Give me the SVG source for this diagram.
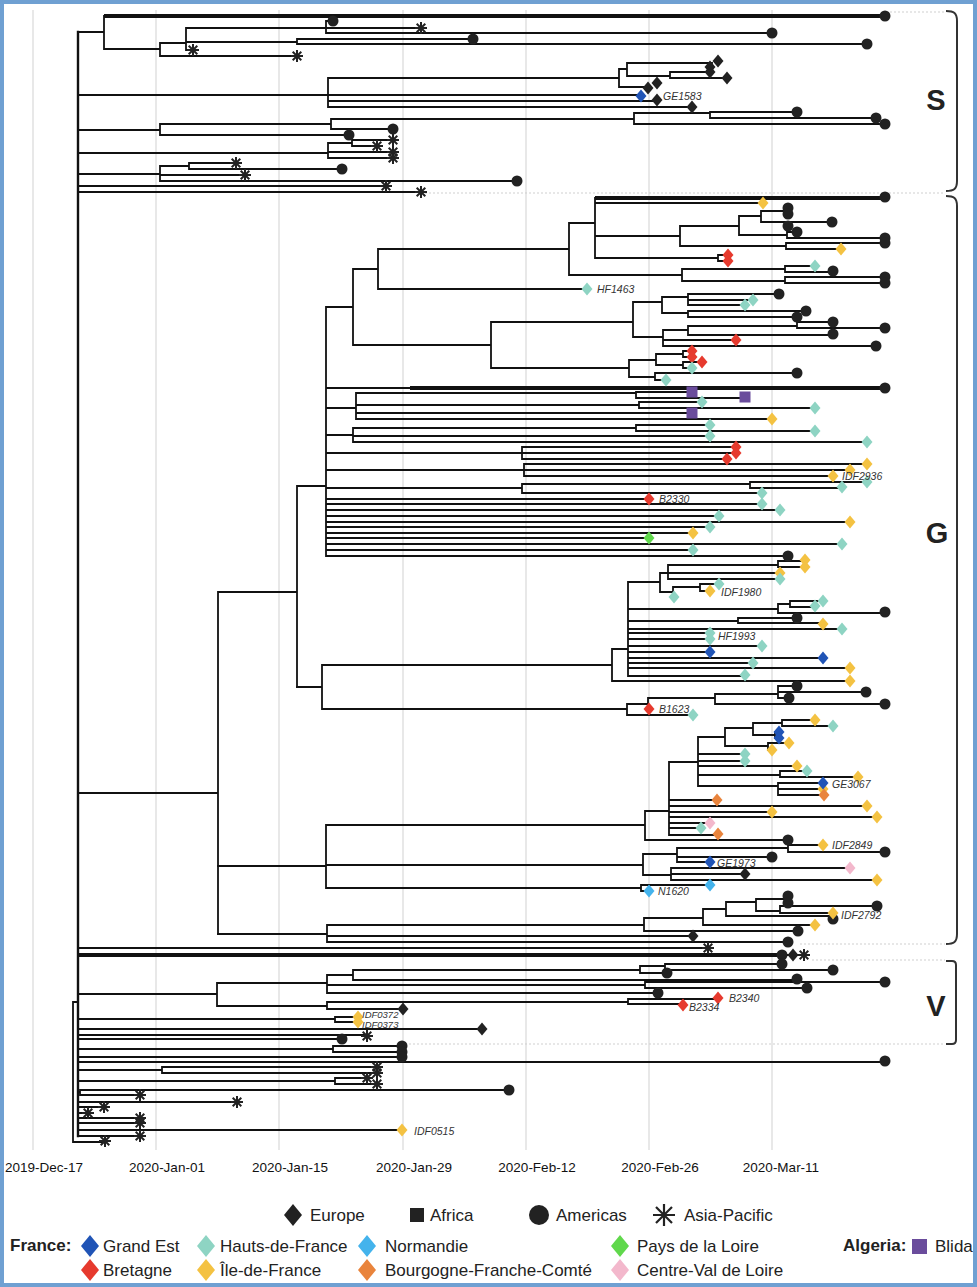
<svg xmlns="http://www.w3.org/2000/svg" xmlns:xlink="http://www.w3.org/1999/xlink" width="977" height="1287" viewBox="0 0 977 1287">
<style>
.t{fill:none;stroke:#111;stroke-width:1.8;stroke-linecap:square}
.th{fill:none;stroke:#111;stroke-width:4}
.grid{stroke:#d9d9d9;stroke-width:1.2}
.dot{stroke:#cfcfcf;stroke-width:1;stroke-dasharray:2,2;fill:none}
.br{fill:none;stroke:#333;stroke-width:2}
.k{fill:#222}.ge{fill:#2054b6}.hf{fill:#8ed4c3}.no{fill:#44b3ec}.pl{fill:#60d84c}.bt{fill:#e63a2e}.if{fill:#f4c242}.bf{fill:#e9843c}.cv{fill:#f3b8cc}.bl{fill:#6a4c9c}
.lab{font-family:"Liberation Sans",Arial,sans-serif;font-style:italic;font-size:10.5px;fill:#333}
.labs{font-family:"Liberation Sans",Arial,sans-serif;font-style:italic;font-size:9.5px;fill:#333}
.ax{font-family:"Liberation Sans",Arial,sans-serif;font-size:13.5px;fill:#111;text-anchor:middle}
.lg{font-family:"Liberation Sans",Arial,sans-serif;font-size:17px;fill:#222}
.lgb{font-family:"Liberation Sans",Arial,sans-serif;font-size:17px;font-weight:bold;fill:#222}
.cl{font-family:"Liberation Sans",Arial,sans-serif;font-size:29px;font-weight:bold;fill:#222;text-anchor:middle}
</style>
<defs>
<path id="dm" d="M0,-6.5L5.5,0L0,6.5L-5.5,0Z"/>
<circle id="ct" r="5.5"/>
<rect id="sq" x="-5.5" y="-5.5" width="11" height="11"/>
<path id="as" d="M-6,0H6M0,-6V6M-4.3,-4.3L4.3,4.3M-4.3,4.3L4.3,-4.3" stroke="#222" stroke-width="2" fill="none"/>
<path id="dmL" d="M0,-11L9,0L0,11L-9,0Z"/>
</defs>
<rect x="0" y="0" width="977" height="1287" fill="#fff"/>
<g id="grid">
<path class="grid" d="M33,10V1150M156,10V1150M279,10V1150M403,10V1150M526,10V1150M649,10V1150M772,10V1150"/>
<path class="dot" d="M890,12H945M425,193H945M800,944H945M812,960H945M405,1044H945"/>
</g>
<g id="axis">
<text class="ax" x="44" y="1172">2019-Dec-17</text>
<text class="ax" x="167" y="1172">2020-Jan-01</text>
<text class="ax" x="290" y="1172">2020-Jan-15</text>
<text class="ax" x="414" y="1172">2020-Jan-29</text>
<text class="ax" x="537" y="1172">2020-Feb-12</text>
<text class="ax" x="660" y="1172">2020-Feb-26</text>
<text class="ax" x="781" y="1172">2020-Mar-11</text>
</g>
<g id="connectors">
<path class="t" style="stroke-width:2.4" d="M78,32V1136"/>
<path class="t" d="M73,1002V1142M73,1002H78M73,1142H105"/>
<path class="th" d="M104,16H885M595,198H885M410,388H885M78,955H782"/>
<path class="t" d="M78,32H104M104,16V49M104,49H160M160,43V56M160,56H297M160,43H186M186,28V50M186,50H193M186,42H297M297,39V44M297,39H473M297,44H867M186,28H326M326,21V33M326,21H333M326,28H421M326,33H772
M78,95H328M328,78V107M328,78H619M619,69V87M619,69H627M627,63V76M627,63H712M627,76H670M670,72V78M670,72H710M670,78H727M619,87H648M328,95H641M328,101H657M328,107H692
M78,130H160M160,124V135M160,135H349M160,124H331M331,119V129M331,129H393M331,119H634M634,113V124M634,113H710M710,112V118M710,112H797M710,118H876M634,124H885
M78,153H328M328,143V158M328,143H352M352,140V146M352,140H393M352,146H377M328,152H393M328,158H393
M78,174H160M160,166V181M160,166H189M189,163V169M189,163H236M189,169H342M160,175H245M160,181H517M78,186H386M78,192H421"/>
<path class="t" d="M78,793H218M218,592V934M218,592H297M297,486V687M297,486H326M326,307V556
M326,307H353M353,269V345M353,269H378M378,249V289M378,289H587M378,249H569M569,223V275M569,223H595M595,198V258M595,203H763M595,236H680M680,226V246M680,226H739M739,216V235M739,216H761M761,211V222M761,211H785M785,208V214M785,208H788M785,214H788M761,222H832M739,235H787M787,226V238M787,226H788M787,232H797M787,238H885M680,246H786M786,243V249M786,243H885M786,249H841M595,258H718M718,255V261M718,255H728M718,261H728
M569,275H682M682,269V281M682,269H785M785,266V272M785,266H815M785,272H833M682,281H785M785,277V283M785,277H885M785,283H885
M353,345H491M491,322V368M491,322H633M633,302V337M633,302H662M662,297V313M662,297H688M688,294V305M688,294H779M688,300H753M688,305H745M662,313H688M688,311V317M688,311H806M688,317H797
M633,337H663M663,330V346M663,330H688M688,326V335M688,326H797M797,322V328M797,322H833M797,328H885M688,335H833M663,340H736M663,346H876
M491,368H629M629,360V377M629,360H656M656,354V365M656,354H683M683,351V357M683,351H692M683,357H692M656,365H683M683,362V368M683,362H702M683,368H692M629,377H655M655,373V380M655,373H797M655,380H666
M326,388H410M326,408H356M356,393V419M356,393H636M636,392V398M636,392H692M636,398H745M356,405H639M639,402V408M639,402H702M639,408H815M356,413H692M356,419H772
M326,435H353M353,428V442M353,428H636M636,425V431M636,425H710M636,431H815M353,436H710M353,442H867
M326,453H522M522,447V459M522,447H736M522,453H736M522,459H727
M326,470H524M524,464V476M524,464H867M524,470H850M524,476H833
M326,488H522M522,484V493M522,484H750M750,482V488M750,482H867M750,488H842M522,493H762
M326,499H649M326,504H762M326,510H780M326,516H719M326,522H850M326,527H710M326,533H693M326,538H649M326,544H842M326,550H693M326,556H788"/>
<path class="t" d="M297,687H322M322,665V709M322,665H612M612,649V681M612,649H628M628,582V676
M628,582H660M660,573V592M660,573H668M668,565V579M668,565H778M778,561V567M778,561H805M778,567H805M668,573H780M668,579H780M660,592H673M673,587V597M673,587H700M700,584V591M700,584H719M700,591H710M673,597H674
M628,609H778M778,604V613M778,604H790M790,601V607M790,601H823M790,607H815M778,613H885M628,621H738M738,618V623M738,618H797M738,623H823
M628,629H842M628,633H710M628,639H710M628,646H762M628,652H710M628,658H823M628,663H753M628,668H850M628,676H745M612,681H850
M322,709H627M627,704V715M627,704H648M648,698V709M648,698H715M715,694V704M715,694H778M778,686V698M778,686H797M778,692H866M778,698H789M715,704H885M627,715H693"/>
<path class="t" d="M218,866H326M326,825V888M326,825H645M645,811V840M645,811H669M669,762V835M669,762H698M698,737V786
M698,737H725M725,728V746M725,728H753M753,723V735M753,723H782M782,720V726M782,720H815M782,726H833M753,735H775M775,732V738M775,732H779M775,738H779M725,746H768M768,743V750M768,743H789M768,750H772
M698,754H745M698,761H745M698,766H797M698,775H780M780,771V777M780,771H807M780,777H858M698,786H778M778,783V795M778,783H823M778,789H823M778,795H824
M669,800H717M669,806H867M669,812H772M669,817H877M669,823H710M669,828H701M669,835H718M645,840H788
M326,865H643M643,854V875M643,854H677M677,848V862M677,848H788M788,845V852M788,845H823M788,852H885M677,857H772M677,862H710M643,875H671M671,868V880M671,868H850M671,874H745M671,880H877
M326,888H641M641,885V891M641,885H710M641,891H649
M218,934H327M327,925V942M327,925H644M644,918V931M644,918H703M703,909V925M703,909H726M726,902V916M726,902H756M756,899V911M756,899H785M785,896V903M785,896H788M785,903H788M756,911H780M780,906V913M780,906H877M780,913H833M726,916H833M703,925H815M644,931H798M327,936H693M327,942H788"/>
<path class="t" d="M78,948H708M782,955H800
M78,994H217M217,983V1006M217,983H327M327,975V993M327,975H353M353,970V980M353,970H640M640,966V973M640,966H665M665,964V970M665,964H782M665,970H833M640,973H667M353,980H797M327,985H645M645,982V988M645,982H885M645,988H807M327,993H658
M217,1006H327M327,1002V1009M327,1002H628M628,999V1004M628,999H718M628,1004H683M327,1009H403
M78,1019H335M335,1017V1022M335,1017H358M335,1022H358M78,1029H482M78,1035H367M78,1039H342M78,1049H333M333,1046V1052M333,1046H402M333,1052H402M78,1057H402M78,1062H885
M78,1070H162M162,1067V1073M162,1067H377M162,1073H377M78,1081H335M335,1078V1084M335,1078H367M335,1084H377
M78,1092H80M80,1090V1095M80,1090H509M80,1095H140M78,1102H237M78,1107H104M78,1113H88M78,1118H140M78,1123H140M78,1130H402M78,1136H140"/>
</g>
<g id="clade-S">
<use href="#ct" class="k" x="885" y="16"/><use href="#ct" class="k" x="867" y="44"/><use href="#ct" class="k" x="473" y="39"/>
<use href="#as" x="297" y="56"/><use href="#as" x="193" y="50"/><use href="#ct" class="k" x="333" y="21"/><use href="#as" x="421" y="28"/><use href="#ct" class="k" x="772" y="33"/>
<use href="#dm" class="k" x="718" y="61"/><use href="#dm" class="k" x="710" y="67"/><use href="#dm" class="k" x="710" y="72"/><use href="#dm" class="k" x="727" y="78"/>
<use href="#dm" class="k" x="648" y="88"/><use href="#dm" class="k" x="657" y="83"/><use href="#dm" class="k" x="657" y="100"/><use href="#dm" class="k" x="692" y="107"/>
<use href="#ct" class="k" x="797" y="112"/><use href="#ct" class="k" x="876" y="118"/><use href="#ct" class="k" x="885" y="124"/><use href="#ct" class="k" x="393" y="129"/><use href="#ct" class="k" x="349" y="135"/>
<use href="#as" x="393" y="140"/><use href="#as" x="377" y="146"/><use href="#as" x="393" y="152"/><use href="#as" x="393" y="158"/>
<use href="#as" x="236" y="163"/><use href="#ct" class="k" x="342" y="169"/><use href="#as" x="245" y="175"/><use href="#ct" class="k" x="517" y="181"/>
<use href="#as" x="386" y="186"/><use href="#as" x="421" y="192"/>
</g>
<g id="tip-GE1583"><use href="#dm" class="ge" x="641" y="96"/><text class="lab" x="663" y="100">GE1583</text></g>
<g id="clade-G">
<use href="#ct" class="k" x="885" y="197"/><use href="#dm" class="if" x="763" y="203"/>
<use href="#ct" class="k" x="788" y="208"/><use href="#ct" class="k" x="788" y="214"/><use href="#ct" class="k" x="832" y="222"/><use href="#ct" class="k" x="788" y="226"/><use href="#ct" class="k" x="797" y="232"/><use href="#ct" class="k" x="885" y="238"/><use href="#ct" class="k" x="885" y="243"/><use href="#dm" class="if" x="841" y="249"/>
<use href="#dm" class="bt" x="728" y="255"/><use href="#dm" class="bt" x="728" y="261"/>
<use href="#dm" class="hf" x="815" y="266"/><use href="#ct" class="k" x="833" y="271"/><use href="#ct" class="k" x="885" y="277"/><use href="#ct" class="k" x="885" y="283"/>
<use href="#ct" class="k" x="779" y="294"/><use href="#dm" class="hf" x="753" y="300"/><use href="#dm" class="hf" x="745" y="305"/><use href="#ct" class="k" x="806" y="311"/><use href="#ct" class="k" x="797" y="317"/>
<use href="#ct" class="k" x="833" y="322"/><use href="#ct" class="k" x="885" y="328"/><use href="#ct" class="k" x="833" y="334"/><use href="#dm" class="bt" x="736" y="340"/><use href="#ct" class="k" x="876" y="346"/>
<use href="#dm" class="bt" x="692" y="351"/><use href="#dm" class="bt" x="692" y="357"/><use href="#dm" class="bt" x="702" y="362"/><use href="#dm" class="hf" x="692" y="368"/><use href="#ct" class="k" x="797" y="373"/><use href="#dm" class="hf" x="666" y="380"/>
<use href="#ct" class="k" x="885" y="388"/>
<use href="#sq" class="bl" x="692" y="392"/><use href="#sq" class="bl" x="745" y="397"/><use href="#dm" class="hf" x="702" y="402"/><use href="#dm" class="hf" x="815" y="408"/><use href="#sq" class="bl" x="692" y="413"/><use href="#dm" class="if" x="772" y="419"/>
<use href="#dm" class="hf" x="710" y="425"/><use href="#dm" class="hf" x="815" y="431"/><use href="#dm" class="hf" x="710" y="436"/><use href="#dm" class="hf" x="867" y="442"/>
<use href="#dm" class="bt" x="736" y="447"/><use href="#dm" class="bt" x="736" y="453"/><use href="#dm" class="bt" x="727" y="459"/>
<use href="#dm" class="if" x="867" y="464"/><use href="#dm" class="if" x="850" y="470"/>
<use href="#dm" class="hf" x="867" y="482"/><use href="#dm" class="hf" x="842" y="487"/><use href="#dm" class="hf" x="762" y="493"/>
<use href="#dm" class="hf" x="762" y="504"/><use href="#dm" class="hf" x="780" y="510"/><use href="#dm" class="hf" x="719" y="516"/><use href="#dm" class="if" x="850" y="522"/><use href="#dm" class="hf" x="710" y="527"/><use href="#dm" class="if" x="693" y="533"/><use href="#dm" class="pl" x="649" y="538"/><use href="#dm" class="hf" x="842" y="544"/><use href="#dm" class="hf" x="693" y="550"/><use href="#ct" class="k" x="788" y="556"/>
<use href="#dm" class="if" x="805" y="560"/><use href="#dm" class="if" x="805" y="567"/><use href="#dm" class="if" x="780" y="573"/><use href="#dm" class="hf" x="780" y="579"/><use href="#dm" class="hf" x="719" y="584"/><use href="#dm" class="hf" x="674" y="597"/>
<use href="#dm" class="hf" x="823" y="601"/><use href="#dm" class="hf" x="815" y="606"/><use href="#ct" class="k" x="885" y="612"/><use href="#ct" class="k" x="797" y="618"/><use href="#dm" class="if" x="823" y="624"/><use href="#dm" class="hf" x="842" y="629"/>
<use href="#dm" class="hf" x="710" y="639"/><use href="#dm" class="hf" x="762" y="646"/><use href="#dm" class="ge" x="710" y="652"/><use href="#dm" class="ge" x="823" y="658"/><use href="#dm" class="hf" x="753" y="663"/><use href="#dm" class="if" x="850" y="668"/><use href="#dm" class="hf" x="745" y="675"/><use href="#dm" class="if" x="850" y="681"/>
<use href="#ct" class="k" x="797" y="686"/><use href="#ct" class="k" x="866" y="692"/><use href="#ct" class="k" x="789" y="698"/><use href="#ct" class="k" x="885" y="704"/><use href="#dm" class="hf" x="693" y="715"/>
<use href="#dm" class="if" x="815" y="720"/><use href="#dm" class="hf" x="833" y="726"/><use href="#dm" class="ge" x="779" y="732"/><use href="#dm" class="ge" x="779" y="738"/><use href="#dm" class="if" x="789" y="743"/><use href="#dm" class="if" x="772" y="750"/>
<use href="#dm" class="hf" x="745" y="754"/><use href="#dm" class="hf" x="745" y="761"/><use href="#dm" class="if" x="797" y="766"/><use href="#dm" class="hf" x="807" y="771"/><use href="#dm" class="if" x="858" y="777"/><use href="#dm" class="if" x="823" y="789"/><use href="#dm" class="bf" x="824" y="795"/>
<use href="#dm" class="bf" x="717" y="800"/><use href="#dm" class="if" x="867" y="806"/><use href="#dm" class="if" x="772" y="812"/><use href="#dm" class="if" x="877" y="817"/><use href="#dm" class="cv" x="710" y="823"/><use href="#dm" class="hf" x="701" y="828"/><use href="#dm" class="bf" x="718" y="834"/>
<use href="#ct" class="k" x="788" y="840"/><use href="#ct" class="k" x="885" y="852"/><use href="#ct" class="k" x="772" y="857"/>
<use href="#dm" class="cv" x="850" y="868"/><use href="#dm" class="k" x="745" y="874"/><use href="#dm" class="if" x="877" y="880"/><use href="#dm" class="no" x="710" y="885"/>
<use href="#ct" class="k" x="788" y="896"/><use href="#ct" class="k" x="788" y="903"/><use href="#ct" class="k" x="877" y="906"/><use href="#ct" class="k" x="833" y="919"/><use href="#dm" class="if" x="815" y="925"/><use href="#ct" class="k" x="798" y="931"/><use href="#dm" class="k" x="693" y="936"/><use href="#ct" class="k" x="788" y="942"/>
</g>
<g id="tip-HF1463"><use href="#dm" class="hf" x="587" y="289"/><text class="lab" x="597" y="293">HF1463</text></g>
<g id="tip-IDF2936"><use href="#dm" class="if" x="833" y="476"/><text class="lab" x="842" y="480">IDF2936</text></g>
<g id="tip-B2330"><use href="#dm" class="bt" x="649" y="499"/><text class="lab" x="659" y="503">B2330</text></g>
<g id="tip-IDF1980"><use href="#dm" class="if" x="710" y="591"/><text class="lab" x="721" y="596">IDF1980</text></g>
<g id="tip-HF1993"><use href="#dm" class="hf" x="710" y="633"/><text class="lab" x="718" y="640">HF1993</text></g>
<g id="tip-B1623"><use href="#dm" class="bt" x="649" y="709"/><text class="lab" x="659" y="713">B1623</text></g>
<g id="tip-GE3067"><use href="#dm" class="ge" x="823" y="783"/><text class="lab" x="832" y="788">GE3067</text></g>
<g id="tip-IDF2849"><use href="#dm" class="if" x="823" y="845"/><text class="lab" x="832" y="849">IDF2849</text></g>
<g id="tip-GE1973"><use href="#dm" class="ge" x="710" y="862"/><text class="lab" x="717" y="867">GE1973</text></g>
<g id="tip-N1620"><use href="#dm" class="no" x="649" y="891"/><text class="lab" x="658" y="895">N1620</text></g>
<g id="tip-IDF2792"><use href="#dm" class="if" x="833" y="913"/><text class="lab" x="841" y="919">IDF2792</text></g>
<g id="basal">
<use href="#as" x="708" y="948"/><use href="#ct" class="k" x="782" y="955"/><use href="#dm" class="k" x="793" y="955"/><use href="#as" x="804" y="955"/>
<use href="#dm" class="k" x="482" y="1029"/><use href="#as" x="367" y="1036"/><use href="#ct" class="k" x="342" y="1039"/>
<use href="#ct" class="k" x="402" y="1046"/><use href="#ct" class="k" x="402" y="1052"/><use href="#ct" class="k" x="402" y="1057"/><use href="#ct" class="k" x="885" y="1061"/>
<use href="#as" x="377" y="1067"/><use href="#as" x="377" y="1073"/><use href="#as" x="367" y="1078"/><use href="#as" x="377" y="1084"/>
<use href="#ct" class="k" x="509" y="1090"/><use href="#as" x="140" y="1095"/><use href="#as" x="237" y="1102"/><use href="#as" x="104" y="1107"/><use href="#as" x="88" y="1113"/>
<use href="#as" x="140" y="1118"/><use href="#as" x="140" y="1123"/><use href="#as" x="140" y="1136"/><use href="#as" x="105" y="1141"/>
</g>
<g id="clade-V">
<use href="#ct" class="k" x="782" y="964"/><use href="#ct" class="k" x="833" y="970"/><use href="#ct" class="k" x="667" y="973"/><use href="#ct" class="k" x="797" y="979"/><use href="#ct" class="k" x="885" y="982"/><use href="#ct" class="k" x="807" y="988"/><use href="#ct" class="k" x="658" y="993"/>
<use href="#dm" class="k" x="403" y="1009"/>
</g>
<g id="tip-B2340"><use href="#dm" class="bt" x="718" y="998"/><text class="lab" x="729" y="1002">B2340</text></g>
<g id="tip-B2334"><use href="#dm" class="bt" x="683" y="1005"/><text class="lab" x="689" y="1011">B2334</text></g>
<g id="tip-IDF0372"><use href="#dm" class="if" x="358" y="1017"/><text class="labs" x="362" y="1018">IDF0372</text></g>
<g id="tip-IDF0373"><use href="#dm" class="if" x="358" y="1022"/><text class="labs" x="362" y="1028">IDF0373</text></g>
<g id="tip-IDF0515"><use href="#dm" class="if" x="402" y="1130"/><text class="lab" x="414" y="1135">IDF0515</text></g>
<g id="bracket-S"><path class="br" d="M946,11C954,11 957,13 957,21V181C957,189 954,191 946,191"/><text class="cl" x="936" y="110">S</text></g>
<g id="bracket-G"><path class="br" d="M946,196C954,196 957,198 957,206V934C957,942 954,944 946,944"/><text class="cl" x="937" y="543">G</text></g>
<g id="bracket-V"><path class="br" d="M946,961H952Q956,961 956,965V1040Q956,1044 952,1044H946"/><text class="cl" x="936" y="1016">V</text></g>
<g id="legend">
<use href="#dmL" class="k" x="293" y="1215"/><text class="lg" x="310" y="1221">Europe</text>
<rect class="k" x="410" y="1208" width="14" height="14"/><text class="lg" x="430" y="1221">Africa</text>
<circle class="k" cx="539" cy="1215" r="10"/><text class="lg" x="556" y="1221">Americas</text>
<path d="M664,1204V1226M653,1215H675M656,1207L672,1223M656,1223L672,1207" stroke="#222" stroke-width="2.2"/><text class="lg" x="684" y="1221">Asia-Pacific</text>
<text class="lgb" x="10" y="1251">France:</text>
<use href="#dmL" class="ge" x="90" y="1246"/><text class="lg" x="103" y="1252">Grand Est</text>
<use href="#dmL" class="hf" x="206" y="1246"/><text class="lg" x="220" y="1252">Hauts-de-France</text>
<use href="#dmL" class="no" x="367" y="1246"/><text class="lg" x="385" y="1252">Normandie</text>
<use href="#dmL" class="pl" x="620" y="1246"/><text class="lg" x="637" y="1252">Pays de la Loire</text>
<text class="lgb" x="843" y="1251">Algeria:</text>
<rect class="bl" x="912" y="1239" width="15" height="15"/><text class="lg" x="935" y="1252">Blida</text>
<use href="#dmL" class="bt" x="90" y="1270"/><text class="lg" x="103" y="1276">Bretagne</text>
<use href="#dmL" class="if" x="206" y="1270"/><text class="lg" x="220" y="1276">Île-de-France</text>
<use href="#dmL" class="bf" x="367" y="1270"/><text class="lg" x="385" y="1276">Bourgogne-Franche-Comté</text>
<use href="#dmL" class="cv" x="620" y="1270"/><text class="lg" x="637" y="1276">Centre-Val de Loire</text>
</g>
<rect x="2" y="2" width="973" height="1283" fill="none" stroke="#6fa0d2" stroke-width="4"/>
</svg>
